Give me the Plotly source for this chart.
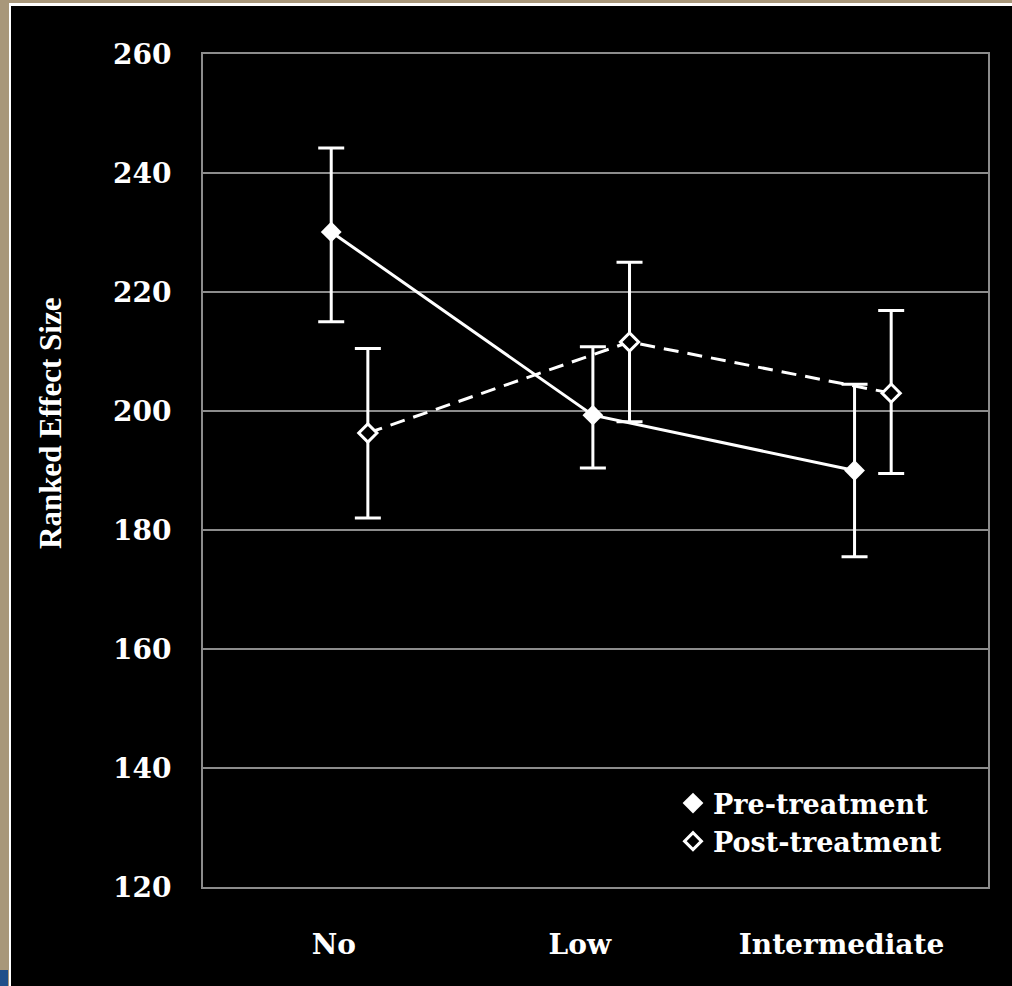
import plotly.graph_objects as go

# ---- data ----
categories = ["No", "Low", "Intermediate"]
pre_mean = [230.1, 199.3, 190.0]
pre_err_plus = [14.1, 11.5, 14.5]
pre_err_minus = [15.1, 8.9, 14.5]
post_mean = [196.3, 211.6, 203.0]
post_err_plus = [14.2, 13.4, 13.9]
post_err_minus = [14.3, 13.4, 13.5]
y_ticks = [120, 140, 160, 180, 200, 220, 240, 260]

# layout constants
PRE_OFFSET = -0.01
POST_OFFSET = 0.13
LABEL_SHIFT = [0.0, -0.06, -0.06]
W, H = 1012, 986
ML, MR, MT, MB = 203, 24, 54, 99
PW = W - ML - MR
PH = H - MT - MB

idx = list(range(len(categories)))
x_pre = [i + PRE_OFFSET for i in idx]
x_post = [i + POST_OFFSET for i in idx]

FONT = "DejaVu Serif"
WHITE = "#ffffff"
GRID = "#8c8c8c"
TAN = "#a8977a"

fig = go.Figure()

fig.add_trace(go.Scatter(
    x=x_pre, y=pre_mean, mode="lines+markers", name="Pre-treatment",
    line=dict(color=WHITE, width=3),
    marker=dict(symbol="diamond", size=16, color=WHITE),
    error_y=dict(type="data", symmetric=False, array=pre_err_plus,
                 arrayminus=pre_err_minus, color=WHITE, thickness=3, width=13),
    showlegend=False,
))
fig.add_trace(go.Scatter(
    x=x_post, y=post_mean, mode="lines+markers", name="Post-treatment",
    line=dict(color=WHITE, width=3, dash="15px,9px"),
    marker=dict(symbol="diamond", size=14, color="#000000",
                line=dict(color=WHITE, width=3)),
    error_y=dict(type="data", symmetric=False, array=post_err_plus,
                 arrayminus=post_err_minus, color=WHITE, thickness=3, width=13),
    showlegend=False,
))
# legend entries (marker only)
fig.add_trace(go.Scatter(
    x=[None], y=[None], mode="markers", name="Pre-treatment",
    marker=dict(symbol="diamond", size=17, color=WHITE),
))
fig.add_trace(go.Scatter(
    x=[None], y=[None], mode="markers", name="Post-treatment",
    marker=dict(symbol="diamond", size=13, color="#000000",
                line=dict(color=WHITE, width=3)),
))

def px_to_paper_x(px):
    return (px - ML) / PW

def px_to_paper_y(py):
    return (H - MB - py) / PH

shapes = [
    # white inner frame line
    dict(type="rect", xref="paper", yref="paper", layer="below",
         x0=px_to_paper_x(9), x1=px_to_paper_x(W + 5),
         y0=px_to_paper_y(H + 5), y1=px_to_paper_y(3),
         fillcolor=WHITE, line=dict(width=0)),
    # black slide area
    dict(type="rect", xref="paper", yref="paper", layer="below",
         x0=px_to_paper_x(11), x1=px_to_paper_x(W + 5),
         y0=px_to_paper_y(H + 5), y1=px_to_paper_y(6),
         fillcolor="#000000", line=dict(width=0)),
    # small blue patch bottom-left
    dict(type="rect", xref="paper", yref="paper", layer="below",
         x0=px_to_paper_x(0), x1=px_to_paper_x(8),
         y0=px_to_paper_y(H + 5), y1=px_to_paper_y(970),
         fillcolor="#1f4f8a", line=dict(width=0)),
]

fig.update_layout(
    width=W, height=H,
    margin=dict(l=ML, r=MR, t=MT, b=MB, autoexpand=False),
    paper_bgcolor=TAN,
    plot_bgcolor="rgba(0,0,0,0)",
    font=dict(family=FONT, color=WHITE, size=28, weight="bold"),
    shapes=shapes,
    showlegend=True,
    legend=dict(
        x=px_to_paper_x(673), y=px_to_paper_y(779),
        xanchor="left", yanchor="top",
        bgcolor="rgba(0,0,0,0)", borderwidth=0,
        font=dict(family=FONT, size=27, color=WHITE, weight="bold"),
        tracegroupgap=0, itemsizing="trace",
    ),
    xaxis=dict(
        range=[-0.5, len(categories) - 0.5],
        tickvals=[i + s for i, s in zip(idx, LABEL_SHIFT)],
        ticktext=categories,
        showgrid=False, zeroline=False,
        showline=True, mirror=True, linecolor=GRID, linewidth=2,
        ticks="", ticklabelstandoff=31,
        tickfont=dict(family=FONT, size=28, color=WHITE, weight="bold"),
        fixedrange=True,
    ),
    yaxis=dict(
        range=[120, 260],
        tickvals=y_ticks,
        showgrid=True, gridcolor=GRID, gridwidth=1.5,
        zeroline=False,
        showline=True, mirror=True, linecolor=GRID, linewidth=2,
        ticks="", ticklabelstandoff=24,
        tickfont=dict(family=FONT, size=28, color=WHITE, weight="bold"),
        fixedrange=True,
    ),
    annotations=[dict(
        text="Ranked Effect Size", textangle=-90,
        xref="paper", yref="paper",
        x=px_to_paper_x(51), y=px_to_paper_y(424),
        xanchor="center", yanchor="middle", showarrow=False,
        font=dict(family="Liberation Serif", size=31, color=WHITE, weight="bold"),
    )],
)

fig.write_html("out.html", config={"displayModeBar": False})
